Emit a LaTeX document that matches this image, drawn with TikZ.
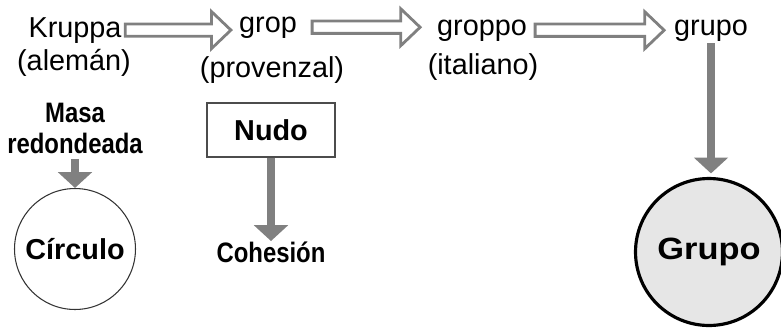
\documentclass[tikz,border=0pt]{standalone}
\usepackage{fontspec}
\setmainfont{Liberation Sans}
\newfontfamily\condbold[FakeStretch=0.85]{Liberation Sans}
\newfontfamily\widebold[FakeStretch=1.12]{Liberation Sans}
\usetikzlibrary{arrows.meta,calc}

\definecolor{arrowgray}{RGB}{128,128,128}
\definecolor{fillgray}{RGB}{230,230,230}

\tikzset{
  word/.style = {inner sep=0pt, font=\fontsize{16.4}{20}\selectfont},
  condkey/.style = {inner sep=0pt, font=\fontsize{16}{17.6}\selectfont\condbold\bfseries},
  keybox/.style = {draw=black!70, line width=0.8pt, minimum width=2.56cm,
    minimum height=1.08cm, inner sep=0pt, font=\fontsize{16.4}{20}\selectfont\bfseries},
  ring/.style = {circle, draw=black!80, line width=0.6pt, minimum size=2.42cm,
    inner sep=0pt, font=\fontsize{16.4}{20}\selectfont\bfseries},
  bigring/.style = {circle, draw=black, fill=fillgray, line width=1.8pt,
    minimum size=2.94cm, inner sep=0pt, font=\fontsize{17.5}{20}\selectfont\widebold\bfseries},
  hollow/.style = {draw=arrowgray, line width=1.6pt,
    to path={let \p1=(\tikztostart), \p2=(\tikztotarget) in
      (\x1,\y1+3.5pt) -- (\x2-11pt,\y1+3.5pt) -- (\x2-11pt,\y1+10.5pt) -- (\x2,\y1)
      -- (\x2-11pt,\y1-10.5pt) -- (\x2-11pt,\y1-3.5pt) -- (\x1,\y1-3.5pt) -- cycle}},
  down/.style = {draw=arrowgray, line width=4pt, -{Triangle[width=19pt, length=9pt]}}
}

\begin{document}
\begin{tikzpicture}[x=0.02cm, y=-0.02cm]
  \useasboundingbox (0,0) rectangle (781,329);

  % etymology line
  \node[word, anchor=base] (kruppa) at (75,37) {Kruppa};
  \node[word, anchor=base] (aleman) at (74,70) {(alemán)};
  \node[word, anchor=base] (grop) at (268,32) {grop};
  \node[word, anchor=base] (provenzal) at (272,77) {(provenzal)};
  \node[word, anchor=base] (groppo) at (482,35) {groppo};
  \node[word, anchor=base] (italiano) at (483,74) {(italiano)};
  \node[word, anchor=base] (grupo) at (711,35) {grupo};

  \draw[hollow] ([xshift=2pt]kruppa.east) to ([xshift=-4.5pt]grop.west);
  \draw[hollow] ([xshift=8.5pt]grop.east) to ([xshift=-9.5pt]groppo.west);
  \draw[hollow] ([xshift=4.5pt]groppo.east) to ([xshift=-5.5pt]grupo.west);

  % meanings
  \node[condkey, align=center] (masa) at (75,128) {Masa\\redondeada};
  \node[ring] (circulo) at (75,249) {Círculo};
  \node[keybox] (nudo) at (271,130) {Nudo};
  \node[condkey, anchor=base] (cohesion) at (271,262) {Cohesión};
  \node[bigring] (grupocirc) at (709,252) {Grupo};

  \draw[down, shorten <=3pt] (masa) -- (circulo);
  \draw[down] (nudo) -- (cohesion);
  \draw[down, shorten <=1pt, shorten >=2pt] (grupo.south) -- (grupo.south |- grupocirc.north);
\end{tikzpicture}
\end{document}
